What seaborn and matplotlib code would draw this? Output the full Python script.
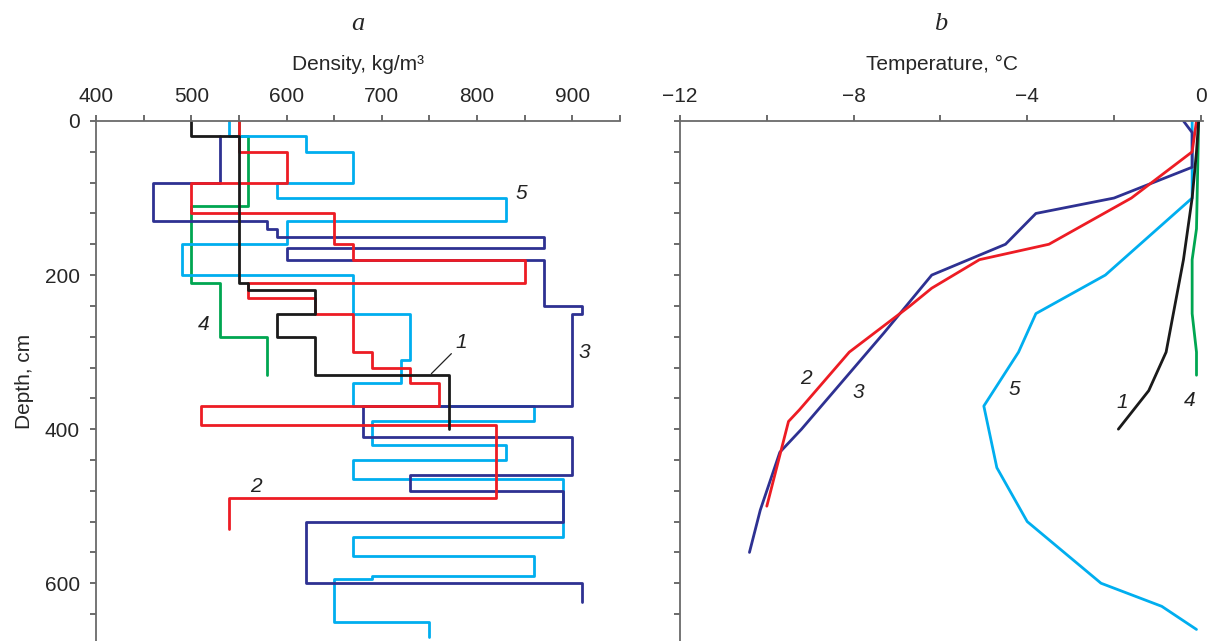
import numpy as np
import pandas as pd
import matplotlib
matplotlib.use("Agg")
import matplotlib.pyplot as plt
from matplotlib.ticker import MultipleLocator
import seaborn as sns

# density profiles: layer boundaries (cm) and layer density (kg/m3)
dens_depth_1 = [0, 20, 210, 220, 250, 280, 330, 400]
dens_1 = [500, 550, 560, 630, 590, 630, 770]
dens_depth_2 = [0, 40, 80, 120, 160, 180, 210, 230, 250, 300, 320, 340, 370, 395, 490, 530]
dens_2 = [550, 600, 500, 650, 670, 850, 560, 630, 670, 690, 730, 760, 510, 820, 540]
dens_depth_3 = [20, 80, 130, 140, 150, 165, 180, 240, 250, 370, 410, 460, 480, 520, 600, 625]
dens_3 = [530, 460, 580, 590, 870, 600, 870, 910, 900, 680, 900, 730, 890, 620, 910]
dens_depth_4 = [0, 20, 110, 210, 280, 330]
dens_4 = [550, 560, 500, 530, 580]
dens_depth_5 = [0, 20, 40, 80, 100, 130, 160, 200, 250, 310, 340, 370, 390, 420, 440, 465,
                540, 565, 590, 595, 650, 670]
dens_5 = [540, 620, 670, 590, 830, 600, 490, 670, 730, 720, 670, 860, 690, 830, 670, 890,
          670, 860, 690, 650, 750]

# temperature profiles
t_depth_1 = [0, 40, 100, 180, 300, 350, 400]
temp_1 = [-0.05, -0.1, -0.2, -0.4, -0.8, -1.2, -1.9]
t_depth_2 = [0, 40, 100, 160, 180, 217, 240, 300, 375, 390, 500]
temp_2 = [-0.1, -0.2, -1.6, -3.5, -5.1, -6.2, -6.7, -8.1, -9.25, -9.5, -10.0]
t_depth_3 = [0, 15, 60, 100, 120, 160, 200, 275, 400, 430, 505, 560]
temp_3 = [-0.4, -0.2, -0.2, -2.0, -3.8, -4.5, -6.2, -7.3, -9.2, -9.7, -10.15, -10.4]
t_depth_4 = [0, 140, 180, 250, 300, 330]
temp_4 = [-0.05, -0.1, -0.2, -0.2, -0.1, -0.1]
t_depth_5 = [0, 100, 200, 250, 300, 370, 450, 520, 600, 630, 660]
temp_5 = [-0.2, -0.2, -2.2, -3.8, -4.2, -5.0, -4.7, -4.0, -2.3, -0.9, -0.1]

colors = {1: "#1a1a1a", 2: "#ed1c24", 3: "#2e3192", 4: "#00a651", 5: "#00aeef"}
draw_order = [4, 5, 3, 2, 1]

dens = {1: (dens_depth_1, dens_1), 2: (dens_depth_2, dens_2), 3: (dens_depth_3, dens_3),
        4: (dens_depth_4, dens_4), 5: (dens_depth_5, dens_5)}
temps = {1: (t_depth_1, temp_1), 2: (t_depth_2, temp_2), 3: (t_depth_3, temp_3),
         4: (t_depth_4, temp_4), 5: (t_depth_5, temp_5)}


def steps(bounds, values):
    # each layer becomes a vertical segment, joined by horizontal jumps
    b = np.asarray(bounds, dtype=float)
    depth = np.column_stack([b[:-1], b[1:]]).ravel()
    val = np.repeat(np.asarray(values, dtype=float), 2)
    return pd.DataFrame({"value": val, "depth": depth})


sns.set_style("ticks")
plt.rcParams["font.family"] = ["Liberation Sans", "DejaVu Sans"]
plt.rcParams["font.size"] = 15

W, H = 1209, 641
fig = plt.figure(figsize=(W / 100, H / 100), dpi=100)
ax_a = fig.add_axes([96 / W, 0, 524 / W, 520 / H])
ax_b = fig.add_axes([680 / W, 0, 523 / W, 520 / H])

for k in draw_order:
    df = steps(*dens[k])
    sns.lineplot(data=df, x="value", y="depth", sort=False, estimator=None,
                 color=colors[k], lw=2, ax=ax_a)
    d, t = temps[k]
    sns.lineplot(x=t, y=d, sort=False, estimator=None, color=colors[k], lw=2, ax=ax_b)

for ax in (ax_a, ax_b):
    ax.set_ylim(675, 0)
    ax.xaxis.tick_top()
    ax.xaxis.set_label_position("top")
    for s in ("bottom", "right"):
        ax.spines[s].set_visible(False)
    for s in ("top", "left"):
        ax.spines[s].set_color("#6a6a6a")
        ax.spines[s].set_linewidth(1.3)
    ax.yaxis.set_major_locator(MultipleLocator(200))
    ax.yaxis.set_minor_locator(MultipleLocator(40))
    ax.tick_params(axis="x", which="both", direction="out", length=4.5, width=1.1,
                   color="#444444", labelsize=15, pad=6.3)
    ax.tick_params(axis="y", which="both", direction="out", length=4.3, width=1.1,
                   color="#444444", labelsize=15, pad=7.2)

ax_a.set_xlim(400, 950)
ax_a.xaxis.set_major_locator(MultipleLocator(100))
ax_a.xaxis.set_minor_locator(MultipleLocator(50))
ax_a.set_xlabel("Density, kg/m³", labelpad=12)
ax_a.set_ylabel("Depth, cm", labelpad=8)

ax_b.set_xlim(-12, 0.05)
ax_b.xaxis.set_major_locator(MultipleLocator(4))
ax_b.xaxis.set_minor_locator(MultipleLocator(2))
ax_b.set_xticks([-12, -8, -4, 0])
ax_b.set_xlabel("Temperature, °C", labelpad=12)
ax_b.set_ylabel("")
ax_b.tick_params(axis="y", labelleft=False)

# curve numbers
lab = dict(fontsize=15, style="italic", color="#222222", ha="center", va="center")
ax_a.text(846, 94, "5", **lab)
ax_a.text(913, 300, "3", **lab)
ax_a.text(513, 264, "4", **lab)
ax_a.text(783, 287, "1", **lab)
ax_a.text(568, 475, "2", **lab)
ax_a.plot([752, 773], [328, 302], color="#222222", lw=0.9)

ax_b.text(-9.1, 334, "2", **lab)
ax_b.text(-7.9, 352, "3", **lab)
ax_b.text(-4.3, 348, "5", **lab)
ax_b.text(-1.8, 366, "1", **lab)
ax_b.text(-0.25, 363, "4", **lab)

panel = dict(fontsize=19, style="italic", family="Liberation Serif", ha="center",
             va="baseline")
fig.text(358 / W, 1 - 30 / H, "a", **panel)
fig.text(941 / W, 1 - 30 / H, "b", **panel)

fig.savefig("out.png", dpi=100, facecolor="white")
